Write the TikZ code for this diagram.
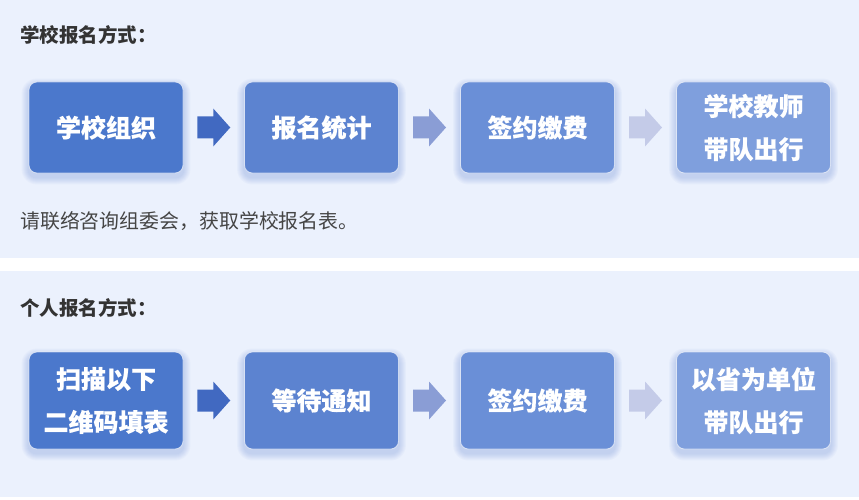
\documentclass[tikz,border=0pt]{standalone}
\usepackage{fontspec}
\newfontfamily\cjk{Noto Sans CJK SC}
\newfontfamily\cjkheavy[BoldFeatures={FakeBold=0.9}]{Noto Sans CJK SC}
\usetikzlibrary{calc,backgrounds}
\definecolor{panel}{HTML}{EBF1FD}
\definecolor{boxA}{HTML}{4B78CC}
\definecolor{boxB}{HTML}{5C83D0}
\definecolor{boxC}{HTML}{6A8FD7}
\definecolor{boxD}{HTML}{7F9FDD}
\definecolor{arrA}{HTML}{4169C1}
\definecolor{arrB}{HTML}{8A9DD5}
\definecolor{arrC}{HTML}{C4CBE8}
\definecolor{shadecol}{HTML}{5F84D3}
\definecolor{titlecol}{HTML}{333333}
\definecolor{notecol}{HTML}{454545}
\tikzset{
  stepbox/.style={rounded corners=8pt, minimum width=154pt, text=white,
    font=\cjkheavy\bfseries\fontsize{25}{43}\selectfont, align=center, inner sep=0pt,
    draw=white, draw opacity=0.6, line width=0.8pt},
  toprow/.style={stepbox, minimum height=91pt},
  botrow/.style={stepbox, minimum height=97pt},
  heading/.style={anchor=west, inner sep=0pt, text=titlecol, font=\cjk\bfseries\fontsize{19.5}{23}\selectfont},
  note/.style={anchor=west, inner sep=0pt, text=notecol, font=\cjk\fontsize{19.9}{23}\selectfont},
}
\newcommand\myshadow[1]{%
  \foreach \i in {1,...,7}{%
    \fill[shadecol, opacity=0.045, rounded corners={(8+\i)*1pt}]
      ($(#1.south west)+({-\i*1pt},{(-4-\i)*1pt})$) rectangle
      ($(#1.north east)+({\i*1pt},{(-4+\i)*1pt})$);}}
\newcommand\blockarrow[2]{%
  \fill[#2] ($(#1)+(-16.5pt,11pt)$) -- ++(16pt,0pt) -- ++(0pt,8pt) -- ++(17pt,-19pt)
    -- ++(-17pt,-19pt) -- ++(0pt,8pt) -- ++(-16pt,0pt) -- cycle;}
\begin{document}
\begin{tikzpicture}[x=1pt,y=-1pt]
\useasboundingbox (0,0) rectangle (859,500);
\begin{scope}[on background layer]
  \fill[white] (0,0) rectangle (859,500);
  \fill[panel] (0,0) rectangle (859,258);
  \fill[panel] (0,271) rectangle (859,497);
\end{scope}

% top section
\node[heading] (t1) at (20,34.5) {学校报名方式：};
\node[toprow, fill=boxA] (a1) at (106,127.5) {学校组织};
\node[toprow, fill=boxB] (a2) at (321.5,127.5) {报名统计};
\node[toprow, fill=boxC] (a3) at (537.5,127.5) {签约缴费};
\node[toprow, fill=boxD] (a4) at (753.5,127.5) {学校教师\\带队出行};
\node[note] (n1) at (20,221.5) {请联络咨询组委会，获取学校报名表。};

% bottom section
\node[heading] (t2) at (20,307.5) {个人报名方式：};
\node[botrow, fill=boxA] (b1) at (106,400.5) {扫描以下\\二维码填表};
\node[botrow, fill=boxB] (b2) at (321.5,400.5) {等待通知};
\node[botrow, fill=boxC] (b3) at (537.5,400.5) {签约缴费};
\node[botrow, fill=boxD] (b4) at (753.5,400.5) {以省为单位\\带队出行};

\begin{scope}[on background layer]
  \foreach \n in {a1,a2,a3,a4,b1,b2,b3,b4}{\myshadow{\n}}
\end{scope}

\coordinate (ma1) at ($(a1.east)!0.5!(a2.west)$);
\coordinate (ma2) at ($(a2.east)!0.5!(a3.west)$);
\coordinate (ma3) at ($(a3.east)!0.5!(a4.west)$);
\coordinate (mb1) at ($(b1.east)!0.5!(b2.west)$);
\coordinate (mb2) at ($(b2.east)!0.5!(b3.west)$);
\coordinate (mb3) at ($(b3.east)!0.5!(b4.west)$);
\blockarrow{ma1}{arrA}
\blockarrow{ma2}{arrB}
\blockarrow{ma3}{arrC}
\blockarrow{mb1}{arrA}
\blockarrow{mb2}{arrB}
\blockarrow{mb3}{arrC}
\end{tikzpicture}
\end{document}
